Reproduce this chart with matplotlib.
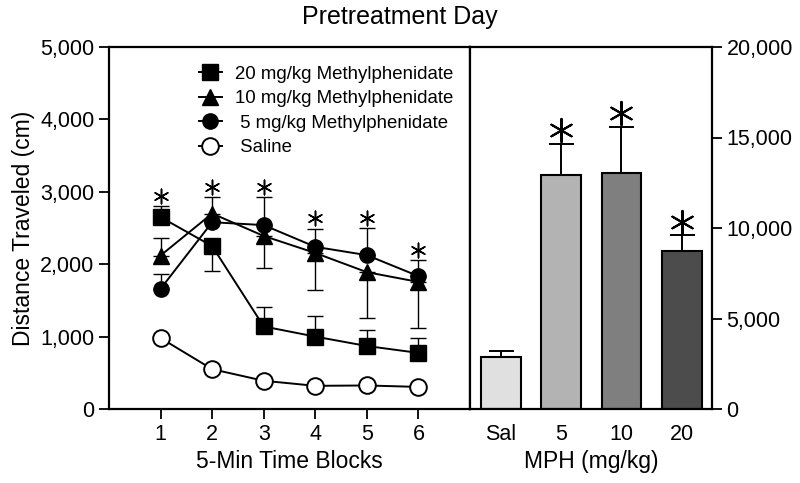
import matplotlib
matplotlib.use("Agg")
import matplotlib.pyplot as plt
from matplotlib.lines import Line2D
from matplotlib.ticker import FuncFormatter

plt.rcParams["font.family"] = ["Liberation Sans", "DejaVu Sans"]

# -----------------------------
# Data
# -----------------------------
blocks = [1, 2, 3, 4, 5, 6]

mph20 = [2650, 2250, 1140, 1000, 870, 775]
mph20_lo = [0, 350, 0, 0, 0, 0]
mph20_hi = [150, 0, 270, 285, 220, 205]

mph10 = [2120, 2700, 2390, 2155, 1890, 1755]
mph10_lo = [0, 0, 440, 510, 630, 635]
mph10_hi = [240, 230, 0, 0, 0, 0]

mph5 = [1660, 2580, 2540, 2240, 2125, 1835]
mph5_lo = [0, 0, 0, 0, 0, 0]
mph5_hi = [205, 0, 390, 250, 375, 220]

saline = [980, 550, 390, 320, 325, 305]

star_blocks = [1, 2, 3, 4, 5, 6]
star_heights = [2940, 3065, 3065, 2640, 2640, 2195]

dose_labels = ["Sal", "5", "10", "20"]
total_dist = [2870, 12930, 13040, 8730]
total_err = [330, 1710, 2540, 880]
bar_colors = ["#e0e0e0", "#b3b3b3", "#7f7f7f", "#4c4c4c"]
bar_star_idx = [1, 2, 3]
bar_star_heights = [15420, 16350, 10330]

# -----------------------------
# Layout
# -----------------------------
fig = plt.figure(figsize=(8, 4.83), dpi=100)
bottom, top = 1 - 409 / 483, 1 - 47 / 483
ax1 = fig.add_axes([109 / 800, bottom, (470 - 109) / 800, top - bottom])
ax2 = fig.add_axes([470 / 800, bottom, (712 - 470) / 800, top - bottom])

comma = FuncFormatter(lambda v, p: f"{int(v):,}")

# -----------------------------
# Left: time course
# -----------------------------
lw = 1.4
ms = 11
eb = dict(ecolor="black", elinewidth=1.0, capsize=6, capthick=1.0)

ax1.errorbar(blocks, mph20, yerr=[mph20_lo, mph20_hi], fmt="-s", color="black",
             lw=lw, ms=ms, zorder=3, **eb)
ax1.errorbar(blocks, mph10, yerr=[mph10_lo, mph10_hi], fmt="-^", color="black",
             lw=lw, ms=ms + 1, zorder=3, **eb)
ax1.errorbar(blocks, mph5, yerr=[mph5_lo, mph5_hi], fmt="-o", color="black",
             lw=lw, ms=ms, zorder=3, **eb)
ax1.plot(blocks, saline, "-o", color="black", lw=lw, ms=ms + 1,
         mfc="white", mec="black", mew=1.4, zorder=4)

# significance asterisks (6 arms, one arm vertical)
ax1.scatter(star_blocks, star_heights, marker=(6, 2, 0), s=110,
            color="black", linewidths=1.1)

ax1.set_xlim(0, 7)
ax1.set_ylim(0, 5000)
ax1.set_xticks(blocks)
ax1.set_yticks([0, 1000, 2000, 3000, 4000, 5000])
ax1.yaxis.set_major_formatter(comma)
ax1.tick_params(direction="out", length=7, width=1.3, labelsize=15.5)
ax1.set_xlabel("5-Min Time Blocks", fontsize=16.5, labelpad=4)
ax1.set_ylabel("Distance Traveled (cm)", fontsize=16.5, labelpad=4)
for s in ax1.spines.values():
    s.set_linewidth(1.6)

# legend handles: line + marker only
handles = [
    Line2D([], [], color="black", lw=lw, marker="s", ms=ms),
    Line2D([], [], color="black", lw=lw, marker="^", ms=ms + 1),
    Line2D([], [], color="black", lw=lw, marker="o", ms=ms),
    Line2D([], [], color="black", lw=lw, marker="o", ms=ms + 1,
           mfc="white", mec="black", mew=1.4),
]
labels = ["20 mg/kg Methylphenidate", "10 mg/kg Methylphenidate",
          " 5 mg/kg Methylphenidate", " Saline"]
ax1.legend(handles, labels, loc="upper left", bbox_to_anchor=(0.25, 0.948),
           frameon=False, fontsize=13.4, handlelength=1.2, handletextpad=0.7,
           labelspacing=0.4, borderaxespad=0, borderpad=0)

# -----------------------------
# Right: total distance
# -----------------------------
xpos = list(range(len(dose_labels)))
ax2.bar(xpos, total_dist, width=0.66, color=bar_colors, edgecolor="black",
        linewidth=1.5, zorder=2)
ax2.errorbar(xpos, total_dist, yerr=[[0] * 4, total_err], fmt="none",
             ecolor="black", elinewidth=1.4, capsize=9, capthick=1.4, zorder=3)
ax2.scatter([xpos[i] for i in bar_star_idx], bar_star_heights, marker=(6, 2, 0),
            s=280, color="black", linewidths=1.5, zorder=4)

ax2.set_xlim(-0.51, 3.5)
ax2.set_ylim(0, 20000)
ax2.set_xticks(xpos)
ax2.set_xticklabels(dose_labels)
ax2.set_yticks([0, 5000, 10000, 15000, 20000])
ax2.yaxis.set_major_formatter(comma)
ax2.yaxis.tick_right()
ax2.tick_params(axis="y", direction="out", length=7, width=1.3, labelsize=15.5)
ax2.tick_params(axis="x", length=0, pad=10.5, labelsize=15.5)
ax2.set_xlabel("MPH (mg/kg)", fontsize=16.5, labelpad=4)
for s in ax2.spines.values():
    s.set_linewidth(1.6)

fig.suptitle("Pretreatment Day", x=0.5, y=0.99, fontsize=18)

plt.savefig("out.png", dpi=100)
